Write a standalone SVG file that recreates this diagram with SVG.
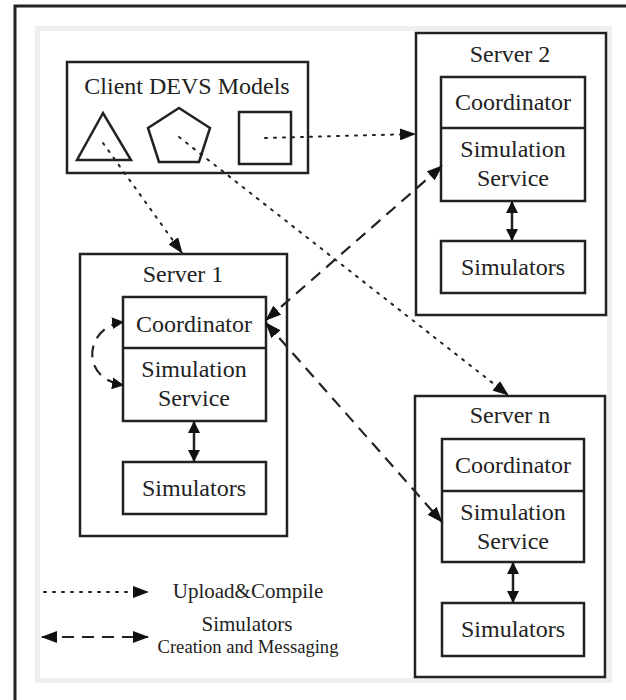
<svg xmlns="http://www.w3.org/2000/svg" width="626" height="700" viewBox="0 0 626 700">
<style>
text{font-family:"Liberation Serif","Times New Roman",serif;fill:#222;text-anchor:middle}
.box{fill:#fff;stroke:#222;stroke-width:2.5}
.shape{fill:none;stroke:#222;stroke-width:2.5}
.dot{fill:none;stroke:#222;stroke-width:2;stroke-dasharray:2 7;stroke-linecap:round}
.dash{fill:none;stroke:#222;stroke-width:2.2;stroke-dasharray:12 8}
.solid{fill:none;stroke:#222;stroke-width:2.5}
.t24{font-size:24px}
</style>
<defs>
<marker id="ah" markerUnits="userSpaceOnUse" markerWidth="16" markerHeight="12" refX="15" refY="6" orient="auto-start-reverse" viewBox="0 0 16 12">
<path d="M0,0 L16,6 L0,12 z" fill="#111"/>
</marker>
<marker id="sh" markerUnits="userSpaceOnUse" markerWidth="12" markerHeight="12" refX="11" refY="6" orient="auto-start-reverse" viewBox="0 0 12 12">
<path d="M0,0 L12,6 L0,12 z" fill="#111"/>
</marker>
</defs>
<rect x="0" y="0" width="626" height="700" fill="#fff"/>
<rect x="15" y="6" width="700" height="800" fill="none" stroke="#222" stroke-width="3"/>
<rect x="35" y="26" width="577" height="657" fill="#efefef"/>
<rect x="40" y="31" width="567" height="647" fill="#fff"/>

<g id="client">
<rect class="box" x="67" y="62" width="241" height="111"/>
<text class="t24" x="187" y="94">Client DEVS Models</text>
<polygon class="shape" points="103,113 77,160 131,160"/>
<polygon class="shape" points="179,108 210,128 199,162 159,162 148,128"/>
<rect class="shape" x="239" y="112" width="52" height="52"/>
</g>

<g id="server1">
<rect class="box" x="80" y="254" width="207" height="282"/>
<text class="t24" x="183" y="282">Server 1</text>
<rect class="box" x="123" y="297" width="143" height="124"/>
<line class="solid" x1="123" y1="348" x2="266" y2="348"/>
<text class="t24" x="194" y="332">Coordinator</text>
<text class="t24" x="194" y="377">Simulation</text>
<text class="t24" x="194" y="406">Service</text>
<rect class="box" x="123" y="462" width="143" height="52"/>
<text class="t24" x="194" y="496">Simulators</text>
</g>

<g id="server2">
<rect class="box" x="416" y="33" width="190" height="282"/>
<text class="t24" x="510" y="62">Server 2</text>
<rect class="box" x="441" y="77" width="144" height="124"/>
<line class="solid" x1="441" y1="128" x2="585" y2="128"/>
<text class="t24" x="513" y="110">Coordinator</text>
<text class="t24" x="513" y="157">Simulation</text>
<text class="t24" x="513" y="186">Service</text>
<rect class="box" x="441" y="241" width="144" height="52"/>
<text class="t24" x="513" y="275">Simulators</text>
</g>

<g id="servern">
<rect class="box" x="415" y="396" width="190" height="281"/>
<text class="t24" x="510" y="423">Server n</text>
<rect class="box" x="442" y="439" width="142" height="123"/>
<line class="solid" x1="442" y1="491" x2="584" y2="491"/>
<text class="t24" x="513" y="473">Coordinator</text>
<text class="t24" x="513" y="520">Simulation</text>
<text class="t24" x="513" y="549">Service</text>
<rect class="box" x="442" y="603" width="142" height="53"/>
<text class="t24" x="513" y="637">Simulators</text>
</g>

<g id="connectors">
<line class="dot" x1="103" y1="143" x2="182" y2="253" marker-end="url(#ah)"/>
<line class="dot" x1="179" y1="137" x2="508" y2="395" marker-end="url(#ah)"/>
<line class="dot" x1="265" y1="138" x2="415" y2="134" marker-end="url(#ah)"/>
<line class="dash" x1="266" y1="320" x2="442" y2="166" marker-start="url(#ah)" marker-end="url(#ah)"/>
<line class="dash" x1="266" y1="323" x2="442" y2="522" marker-start="url(#ah)" marker-end="url(#ah)"/>
<path class="dash" d="M123,322 C86,326 78,378 123,385" marker-start="url(#sh)" marker-end="url(#sh)"/>
<line class="solid" x1="194" y1="422" x2="194" y2="461" marker-start="url(#sh)" marker-end="url(#sh)"/>
<line class="solid" x1="512" y1="202" x2="512" y2="240" marker-start="url(#sh)" marker-end="url(#sh)"/>
<line class="solid" x1="513" y1="563" x2="513" y2="602" marker-start="url(#sh)" marker-end="url(#sh)"/>
</g>

<g id="legend">
<line class="dot" x1="44" y1="592" x2="148" y2="592" marker-end="url(#ah)"/>
<text x="248" y="598" style="font-size:21px">Upload&amp;Compile</text>
<line class="dash" x1="42" y1="637" x2="148" y2="637" marker-start="url(#ah)" marker-end="url(#ah)"/>
<text x="247" y="631" style="font-size:21px">Simulators</text>
<text x="248" y="653" style="font-size:18px" textLength="181" lengthAdjust="spacingAndGlyphs">Creation and Messaging</text>
</g>
</svg>
